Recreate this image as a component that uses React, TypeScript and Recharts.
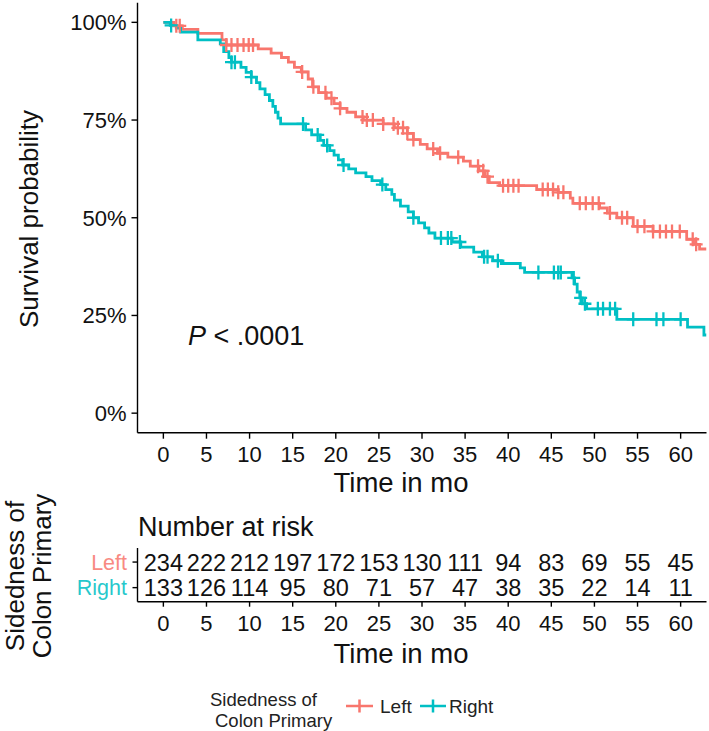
import React from 'react';
import { ComposedChart, Line, Scatter, XAxis, YAxis } from 'recharts';

const FONT = '"Liberation Sans", Arial, Helvetica, sans-serif';
const RED = '#F8766D';
const TEAL = '#00BFC4';

// Kaplan-Meier step points (time in months, survival probability)
const leftTimes = [0, 1.2, 2.2, 4.0, 6.8, 7.3, 11.0, 12.5, 13.7, 14.5, 15.2, 16.0, 16.8, 17.3, 18.0, 18.9, 19.8, 20.5, 21.3, 22.3, 23.2, 25.5, 26.8, 28.3, 29.0, 29.8, 30.6, 31.8, 33.0, 34.8, 35.6, 36.6, 37.3, 37.8, 39.0, 43.3, 45.8, 47.2, 47.5, 50.6, 51.5, 52.6, 54.5, 56.8, 60.7, 61.5, 62.2, 63];
const leftSurv = [1.0, 0.991, 0.982, 0.972, 0.955, 0.942, 0.932, 0.921, 0.91, 0.898, 0.885, 0.873, 0.855, 0.835, 0.82, 0.806, 0.792, 0.78, 0.77, 0.758, 0.75, 0.74, 0.73, 0.716, 0.7, 0.688, 0.676, 0.665, 0.655, 0.645, 0.632, 0.62, 0.605, 0.59, 0.582, 0.572, 0.565, 0.55, 0.537, 0.525, 0.512, 0.5, 0.478, 0.465, 0.445, 0.432, 0.42, 0.42];

const rightTimes = [0, 0.8, 1.5, 2.0, 4.0, 6.6, 7.0, 7.6, 7.9, 9.0, 9.6, 10.2, 10.8, 11.2, 11.8, 12.3, 12.7, 13.0, 13.3, 13.6, 16.5, 17.2, 18.2, 18.6, 19.3, 19.8, 20.3, 20.8, 21.5, 22.3, 23.5, 24.2, 25.2, 25.8, 26.5, 26.8, 27.5, 28.4, 29.0, 29.6, 30.3, 30.8, 31.5, 33.5, 34.5, 36.0, 37.0, 38.2, 39.2, 41.4, 41.9, 47.4, 47.7, 48.0, 48.3, 48.6, 49.1, 52.6, 60.8, 62.7, 63];
const rightSurv = [1.0, 0.992, 0.985, 0.975, 0.955, 0.945, 0.925, 0.91, 0.898, 0.885, 0.872, 0.86, 0.846, 0.83, 0.815, 0.8, 0.785, 0.77, 0.755, 0.74, 0.725, 0.712, 0.698, 0.685, 0.672, 0.66, 0.648, 0.635, 0.625, 0.615, 0.605, 0.595, 0.585, 0.572, 0.56, 0.545, 0.53, 0.515, 0.5, 0.487, 0.474, 0.461, 0.448, 0.438, 0.425, 0.412, 0.4, 0.39, 0.383, 0.372, 0.36, 0.346, 0.33, 0.31, 0.295, 0.28, 0.267, 0.24, 0.22, 0.2, 0.2];

// Censoring times
const leftCensor = [1.5, 1.9, 7.3, 7.9, 8.6, 9.3, 9.9, 10.4, 16.1, 17.4, 18.8, 19.5, 20.5, 23.1, 23.6, 24.3, 25.5, 26.7, 27.2, 27.8, 28.3, 29.0, 31.3, 32.1, 34.2, 36.5, 37.1, 37.6, 39.4, 40.0, 40.6, 41.2, 44.0, 44.6, 45.2, 45.8, 46.4, 48.3, 49.0, 49.8, 50.5, 51.8, 53.2, 53.8, 55.0, 55.8, 56.8, 57.6, 58.3, 59.0, 59.9, 61.4, 61.8];
const rightCensor = [0.9, 7.9, 8.3, 10.2, 16.2, 17.9, 19.0, 20.9, 25.4, 29.0, 32.2, 33.0, 33.4, 34.4, 37.2, 37.6, 38.8, 43.5, 45.3, 45.8, 46.1, 47.6, 48.4, 48.9, 50.4, 51.0, 51.8, 52.4, 54.5, 57.2, 58.0, 60.0];

const timeTicks = [0, 5, 10, 15, 20, 25, 30, 35, 40, 45, 50, 55, 60];
const survTicks = [0, 0.25, 0.5, 0.75, 1];
const leftRisk = [234, 222, 212, 197, 172, 153, 130, 111, 94, 83, 69, 55, 45];
const rightRisk = [133, 126, 114, 95, 80, 71, 57, 47, 38, 35, 22, 14, 11];
const groups = ['Left', 'Right'];

const toSteps = (ts: number[], ss: number[]) => ts.map((t, i) => ({ t, s: ss[i] }));
const survAt = (ts: number[], ss: number[], t: number) => {
  let v = ss[0];
  for (let i = 0; i < ts.length; i++) if (ts[i] <= t) v = ss[i];
  return v;
};
const leftData = toSteps(leftTimes, leftSurv);
const rightData = toSteps(rightTimes, rightSurv);
const leftCensorData = leftCensor.map((t) => ({ t, s: survAt(leftTimes, leftSurv, t) }));
const rightCensorData = rightCensor.map((t) => ({ t, s: survAt(rightTimes, rightSurv, t) }));
const leftRiskData = leftRisk.map((n, i) => ({ t: timeTicks[i], row: 2, n }));
const rightRiskData = rightRisk.map((n, i) => ({ t: timeTicks[i], row: 1, n }));

const plus = (color: string) => (props: any) => {
  const { cx, cy } = props;
  if (cx == null || cy == null) return <g />;
  return (
    <path
      d={`M${cx - 6.5},${cy}H${cx + 6.5}M${cx},${cy - 7}V${cy + 7}`}
      stroke={color}
      strokeWidth={2.3}
      fill="none"
    />
  );
};

const riskText = (props: any) => {
  const { cx, cy, payload } = props;
  if (cx == null || cy == null) return <g />;
  return (
    <text x={cx} y={cy} dy="0.36em" textAnchor="middle" fontSize={23.5} fontFamily={FONT} fill="#111">
      {payload.n}
    </text>
  );
};

const RiskYTick = (props: any) => {
  const { x, y, payload } = props;
  const isLeft = payload.value === 2;
  return (
    <text x={x} y={y} dy="0.36em" textAnchor="end" fontSize={21.5} fontFamily={FONT} fill={isLeft ? RED : TEAL} opacity={0.85}>
      {isLeft ? groups[0] : groups[1]}
    </text>
  );
};

const axisStyle = { stroke: '#000', strokeWidth: 1.4 };
const tickStyle = { fontSize: 22, fill: '#111', fontFamily: FONT };

export default function App() {
  return (
    <div style={{ position: 'absolute', left: 0, top: 0, width: 709, height: 731, background: '#fff', overflow: 'hidden' }}>
      <div style={{ position: 'absolute', left: 0, top: 0 }}>
        <ComposedChart width={709} height={480} margin={{ top: 2.8, right: 2.5, bottom: 0, left: 0 }}>
          <XAxis
            type="number"
            dataKey="t"
            domain={[-3, 63]}
            ticks={timeTicks}
            interval={0}
            allowDataOverflow
            height={47.3}
            tickSize={6}
            tickMargin={7.4}
            axisLine={axisStyle}
            tickLine={axisStyle}
            tick={tickStyle}
          />
          <YAxis
            type="number"
            domain={[-0.05, 1.05]}
            ticks={survTicks}
            interval={0}
            allowDataOverflow
            width={137.5}
            tickSize={6}
            tickMargin={5}
            axisLine={axisStyle}
            tickLine={axisStyle}
            tick={tickStyle}
            tickFormatter={(v: number) => `${Math.round(v * 100)}%`}
          />
          <Line data={leftData} dataKey="s" type="stepAfter" stroke={RED} strokeWidth={2.8} dot={false} isAnimationActive={false} />
          <Line data={rightData} dataKey="s" type="stepAfter" stroke={TEAL} strokeWidth={2.8} dot={false} isAnimationActive={false} />
          <Scatter data={leftCensorData} dataKey="s" shape={plus(RED)} isAnimationActive={false} />
          <Scatter data={rightCensorData} dataKey="s" shape={plus(TEAL)} isAnimationActive={false} />
        </ComposedChart>
      </div>
      <div style={{ position: 'absolute', left: 0, top: 540 }}>
        <ComposedChart width={709} height={120} margin={{ top: 8, right: 2.5, bottom: 0, left: 0 }}>
          <XAxis
            type="number"
            dataKey="t"
            domain={[-3, 63]}
            ticks={timeTicks}
            interval={0}
            allowDataOverflow
            height={58.3}
            tickSize={5}
            tickMargin={9}
            axisLine={axisStyle}
            tickLine={axisStyle}
            tick={tickStyle}
          />
          <YAxis
            type="number"
            domain={[0.45, 2.55]}
            ticks={[1, 2]}
            interval={0}
            width={137.5}
            tickSize={5}
            tickMargin={5.5}
            axisLine={axisStyle}
            tickLine={axisStyle}
            tick={<RiskYTick />}
          />
          <Scatter data={leftRiskData} dataKey="row" shape={riskText} isAnimationActive={false} />
          <Scatter data={rightRiskData} dataKey="row" shape={riskText} isAnimationActive={false} />
        </ComposedChart>
      </div>
      <svg width={709} height={731} style={{ position: 'absolute', left: 0, top: 0, pointerEvents: 'none' }} fontFamily={FONT}>
        <text x={29} y={219} transform="rotate(-90 29 219)" textAnchor="middle" dy="0.36em" fontSize={26} fill="#111">
          Survival probability
        </text>
        <text x={188} y={345} fontSize={27} fill="#111">
          <tspan fontStyle="italic">P</tspan>
          <tspan> &lt; .0001</tspan>
        </text>
        <text x={401} y={492} textAnchor="middle" fontSize={27.5} fill="#111">Time in mo</text>
        <text x={138} y={536} fontSize={27} fill="#111">Number at risk</text>
        <text x={401} y={663} textAnchor="middle" fontSize={27.5} fill="#111">Time in mo</text>
        <g transform="rotate(-90 28 576)">
          <text x={28} y={576 - 4} textAnchor="middle" fontSize={26} fill="#111">Sidedness of</text>
          <text x={28} y={576 + 23} textAnchor="middle" fontSize={26} fill="#111">Colon Primary</text>
        </g>
        <text x={210} y={706} fontSize={18.5} fill="#222">Sidedness of</text>
        <text x={215} y={727} fontSize={18.5} fill="#222">Colon Primary</text>
        <path d="M346,706H373M359.5,699.5V712.5" stroke={RED} strokeWidth={2.5} fill="none" />
        <text x={380} y={713} fontSize={19} fill="#222">Left</text>
        <path d="M420,706H446M433,699.5V712.5" stroke={TEAL} strokeWidth={2.5} fill="none" />
        <text x={449} y={713} fontSize={19} fill="#222">Right</text>
      </svg>
    </div>
  );
}
